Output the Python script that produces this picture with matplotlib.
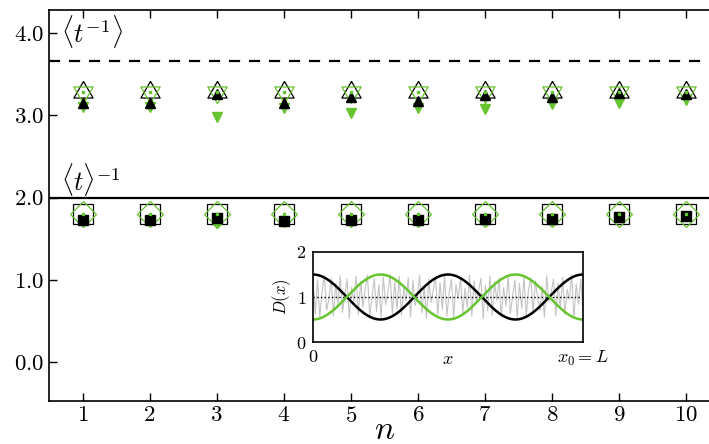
import matplotlib
matplotlib.use("Agg")
import matplotlib.pyplot as plt
import numpy as np

plt.rcParams["mathtext.fontset"] = "cm"
plt.rcParams["font.family"] = "serif"
plt.rcParams["font.serif"] = ["cmr10", "DejaVu Serif"]
plt.rcParams["axes.formatter.use_mathtext"] = True

GREEN = "#66c42f"

# data
n = [1, 2, 3, 4, 5, 6, 7, 8, 9, 10]
inv_t_mean = 3.66          # <t^-1>, dashed line
mean_t_inv = 2.0           # <t>^-1, solid line

tri_open = [3.28] * 10
tri_black = [3.15, 3.15, 3.26, 3.15, 3.22, 3.17, 3.25, 3.22, 3.27, 3.26]
tri_green = [3.10, 3.10, 2.98, 3.09, 3.03, 3.09, 3.08, 3.14, 3.15, 3.19]

sq_open = [1.80] * 10
sq_black = [1.73, 1.73, 1.75, 1.72, 1.73, 1.73, 1.74, 1.74, 1.77, 1.78]
sq_green = [1.71, 1.72, 1.68, 1.72, 1.70, 1.71, 1.72, 1.72, 1.77, 1.77]

# inset: diffusivity profiles
D_mean = 1.0
D_amp = 0.5
n_periods = 2
D_noise = [1.45, 0.62, 1.38, 0.55, 1.12, 1.48, 0.71, 0.95, 1.42, 0.58,
           1.30, 0.85, 1.47, 0.66, 1.05, 1.40, 0.52, 1.22, 0.90, 1.46,
           0.60, 1.35, 0.78, 1.18, 1.49, 0.57, 0.99, 1.41, 0.68, 1.27,
           0.54, 1.44, 0.83, 1.10, 1.50, 0.63, 1.33, 0.74, 1.46, 0.59,
           1.20, 0.92, 1.43, 0.56, 1.37, 0.81, 1.02, 1.48, 0.65, 1.25,
           0.53, 1.40, 0.88, 1.15, 1.45, 0.61, 1.32, 0.72, 1.47, 0.58,
           1.08, 1.39, 0.55, 1.28, 0.96, 1.44, 0.64, 1.19, 0.77, 1.49,
           0.57, 1.36, 0.86, 1.13, 1.42, 0.52, 1.26, 0.69, 1.46, 0.60,
           1.34, 0.93, 1.41, 0.56, 1.21, 0.80, 1.48, 0.63, 1.04, 1.38,
           0.54, 1.30, 0.75, 1.45, 0.59, 1.16, 1.43, 0.66, 1.36, 0.98,
           0.70, 1.24, 0.55, 1.47, 0.89, 1.11, 1.40, 0.58, 1.31, 0.76,
           1.44, 0.62, 1.17, 0.94, 1.49, 0.53, 1.29, 0.84, 1.39, 0.67]

# triangles centred on their centroid so up/down overlap as a star
tri_up = [(0, 1), (-0.866, -0.5), (0.866, -0.5), (0, 1)]
tri_dn = [(0, -1), (-0.866, 0.5), (0.866, 0.5), (0, -1)]

fig = plt.figure(figsize=(7.09, 4.44), dpi=100)
ax = fig.add_axes([49 / 709, 43 / 444, 670.5 / 709, 391 / 444])

ax.axhline(inv_t_mean, color="k", ls=(0, (5, 4)), lw=1.6)
ax.axhline(mean_t_inv, color="k", ls="-", lw=1.6)

ax.plot(n, tri_open, ls="none", marker=tri_up, ms=16, mfc="none", mec="k", mew=0.9)
ax.plot(n, tri_open, ls="none", marker=tri_dn, ms=16, mfc="none", mec=GREEN, mew=0.9)
ax.plot(n, tri_green, ls="none", marker="v", ms=7, color=GREEN)
ax.plot(n, tri_black, ls="none", marker="^", ms=7.5, color="k")
ax.plot(n, tri_open, ls="none", marker="s", ms=1.5, color=GREEN)

ax.plot(n, sq_open, ls="none", marker="s", ms=14, mfc="none", mec="k", mew=0.9)
ax.plot(n, sq_open, ls="none", marker="D", ms=13, mfc="none", mec=GREEN, mew=0.9)
ax.plot(n, sq_green, ls="none", marker="D", ms=4.5, color=GREEN)
ax.plot(n, sq_black, ls="none", marker="s", ms=6.5, color="k")
ax.plot(n, sq_open, ls="none", marker="s", ms=1.5, color=GREEN)

ax.text(0.68, 4.02, r"$\langle t^{-1}\rangle$", fontsize=19, va="center")
ax.text(0.68, 2.22, r"$\langle t\rangle^{-1}$", fontsize=19, va="center")

ax.set_xlim(0.5, 10.5)
ax.set_ylim(-0.47, 4.28)
ax.set_xticks(n)
ax.set_xticklabels([f"${v}$" for v in n])
ax.set_yticks([0, 1, 2, 3, 4])
ax.set_yticklabels([f"${v:.1f}$" for v in [0, 1, 2, 3, 4]])
ax.tick_params(direction="in", top=True, right=True, labelsize=16.5, length=6, width=1)
ax.set_xlabel(r"$n$", fontsize=24, labelpad=-7)
for s in ax.spines.values():
    s.set_linewidth(1.2)

# inset
ins = fig.add_axes([313 / 709, 102 / 444, 270 / 709, 90 / 444])
x = np.linspace(0, 1, 400)
xn = np.linspace(0, 1, len(D_noise))
ins.plot(xn, D_noise, color="#c4c4c4", lw=0.8)
ins.axhline(D_mean, color="k", ls=":", lw=1)
ins.plot(x, D_mean + D_amp * np.cos(2 * np.pi * n_periods * x), color="k", lw=1.8)
ins.plot(x, D_mean - D_amp * np.cos(2 * np.pi * n_periods * x), color=GREEN, lw=1.8)
ins.set_xlim(0, 1)
ins.set_ylim(0, 2)
ins.set_xticks([0, 1])
ins.set_xticklabels(["$0$", "$x_0 = L$"])
ins.set_yticks([0, 1, 2])
ins.set_yticklabels(["$0$", "$1$", "$2$"])
ins.tick_params(direction="in", length=0, labelsize=13, pad=5)
ins.set_xlabel("$x$", fontsize=13, labelpad=-12)
ins.set_ylabel("$D(x)$", fontsize=12, labelpad=2)
for s in ins.spines.values():
    s.set_linewidth(1.2)

fig.savefig("out.png", dpi=100)
